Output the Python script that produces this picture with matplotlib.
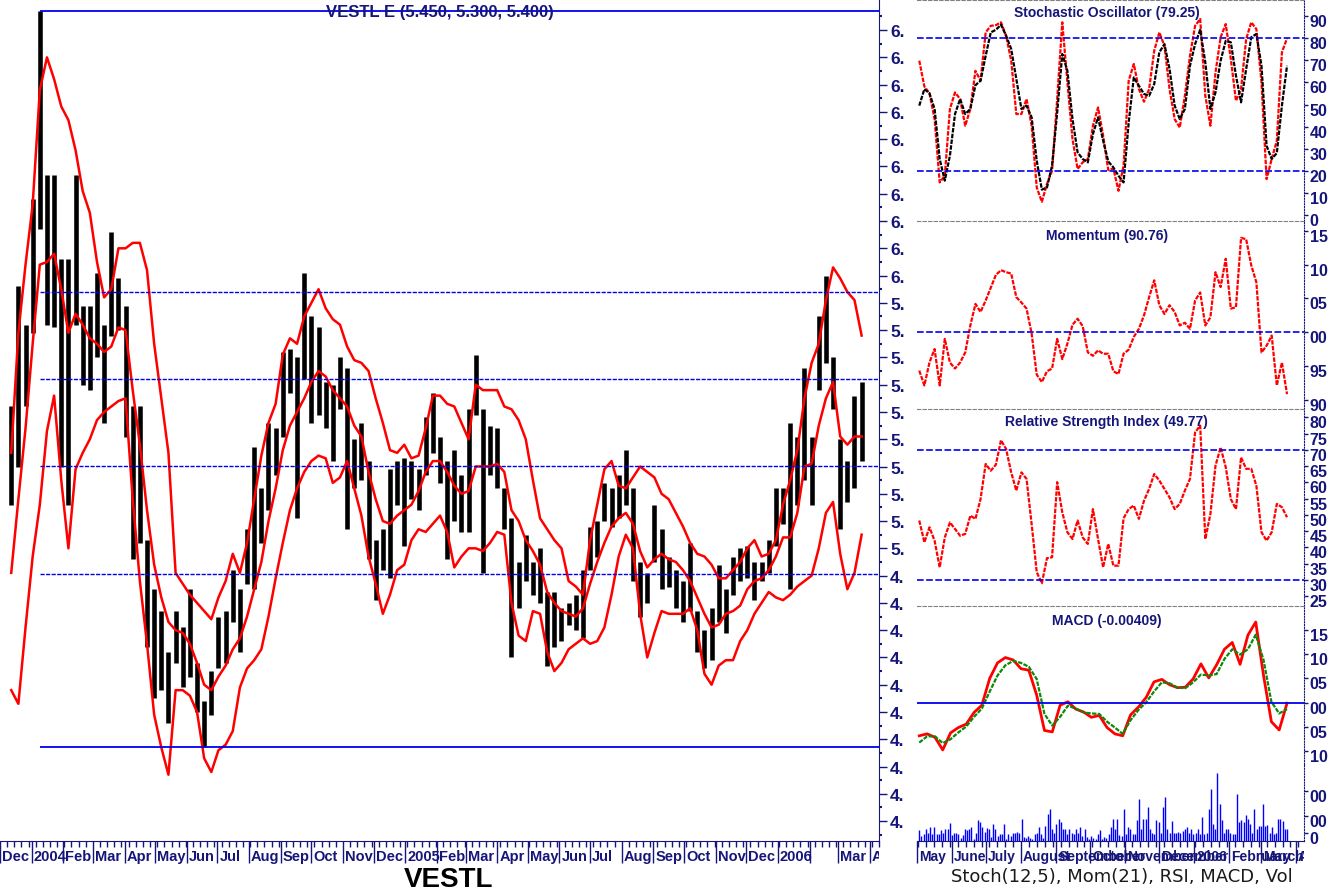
import numpy as np
import pandas as pd
import matplotlib
matplotlib.use('Agg')
import matplotlib.pyplot as plt
import matplotlib.dates as mdates
from matplotlib.transforms import ScaledTranslation, Bbox, TransformedBbox, blended_transform_factory

W, H = 1343, 895
NAVY = '#15157a'
BLUE = '#0000ee'
NARROW = ['Liberation Sans Narrow', 'Liberation Sans', 'DejaVu Sans']
plt.rcParams['font.family'] = ['Liberation Sans', 'DejaVu Sans']
plt.rcParams['font.weight'] = 'bold'

# ---- main chart: weekly high/low and bollinger bands (VESTL) ----
weeks = pd.date_range('2003-12-12', periods=120, freq='7D')
high = [5.52, 5.96, 5.82, 6.28, 6.97, 6.37, 6.37, 6.06, 6.06, 6.37,
        5.89, 5.89, 6.01, 5.82, 6.16, 5.99, 5.89, 5.52, 5.52, 5.03,
        4.85, 4.77, 4.62, 4.77, 4.71, 4.85, 4.58, 4.44, 4.55, 4.75,
        4.77, 4.92, 4.85, 5.07, 5.37, 5.22, 5.46, 5.44, 5.72, 5.73,
        5.70, 6.01, 5.85, 5.81, 5.61, 5.60, 5.70, 5.66, 5.40, 5.46,
        5.32, 5.03, 5.07, 5.29, 5.32, 5.33, 5.32, 5.29, 5.48, 5.57,
        5.41, 5.32, 5.36, 5.27, 5.51, 5.71, 5.51, 5.45, 5.44, 5.22,
        5.11, 4.95, 5.05, 4.95, 5.00, 4.84, 4.84, 4.78, 4.80, 4.83,
        4.92, 5.08, 5.10, 5.24, 5.22, 5.27, 5.36, 5.22, 4.95, 4.91,
        5.16, 5.07, 4.97, 4.92, 4.88, 5.02, 4.77, 4.70, 4.78, 4.94,
        4.85, 4.97, 5.00, 5.01, 4.95, 4.95, 5.03, 5.22, 5.22, 5.46,
        5.41, 5.66, 5.41, 5.85, 6.00, 5.70, 5.40, 5.32, 5.56, 5.61]
low = [5.16, 5.30, 5.52, 5.79, 6.17, 5.82, 5.81, 5.30, 5.16, 5.82,
       5.60, 5.58, 5.70, 5.46, 5.78, 5.80, 5.41, 4.96, 5.02, 4.64,
       4.45, 4.48, 4.36, 4.58, 4.49, 4.53, 4.40, 4.27, 4.39, 4.56,
       4.58, 4.73, 4.62, 4.87, 4.85, 5.02, 5.14, 5.27, 5.41, 5.57,
       5.11, 5.62, 5.46, 5.49, 5.44, 5.32, 5.51, 5.07, 5.22, 5.25,
       4.96, 4.81, 4.92, 4.89, 5.16, 5.01, 5.18, 5.14, 5.27, 5.35,
       5.24, 4.96, 5.10, 5.06, 5.06, 5.49, 4.91, 5.27, 5.22, 5.07,
       4.60, 4.78, 4.88, 4.83, 4.80, 4.57, 4.64, 4.66, 4.72, 4.70,
       4.67, 4.92, 4.97, 5.10, 5.08, 5.11, 5.16, 4.88, 4.75, 4.80,
       4.95, 4.85, 4.86, 4.78, 4.73, 4.77, 4.62, 4.56, 4.59, 4.73,
       4.69, 4.83, 4.88, 4.89, 4.81, 4.88, 4.91, 5.01, 5.09, 4.85,
       5.16, 5.25, 5.16, 5.58, 5.68, 5.51, 5.07, 5.17, 5.22, 5.32]
bb_up = [5.35, 5.79, 6.04, 6.26, 6.68, 6.80, 6.72, 6.62, 6.57, 6.46,
         6.31, 6.23, 6.05, 5.92, 5.95, 6.10, 6.10, 6.12, 6.12, 6.02,
         5.75, 5.55, 5.35, 4.91, 4.87, 4.83, 4.80, 4.77, 4.74, 4.82,
         4.88, 4.98, 4.91, 5.02, 5.18, 5.34, 5.46, 5.53, 5.71, 5.77,
         5.75, 5.85, 5.90, 5.95, 5.88, 5.84, 5.82, 5.74, 5.69, 5.68,
         5.65, 5.55, 5.46, 5.36, 5.35, 5.38, 5.33, 5.34, 5.44, 5.56,
         5.56, 5.53, 5.52, 5.46, 5.40, 5.60, 5.58, 5.58, 5.58, 5.52,
         5.51, 5.47, 5.40, 5.25, 5.11, 5.07, 5.03, 5.00, 4.88, 4.86,
         4.83, 5.03, 5.16, 5.29, 5.32, 5.23, 5.22, 5.26, 5.30, 5.28,
         5.26, 5.20, 5.18, 5.13, 5.08, 5.02, 4.98, 4.97, 4.94, 4.89,
         4.89, 4.92, 4.95, 5.00, 5.03, 4.97, 4.98, 5.03, 5.16, 5.25,
         5.36, 5.55, 5.68, 5.75, 5.91, 6.03, 5.99, 5.94, 5.91, 5.78]
bb_mid = [4.91, 5.18, 5.44, 5.75, 6.04, 6.05, 6.08, 5.95, 5.79, 5.86,
          5.82, 5.77, 5.75, 5.72, 5.74, 5.81, 5.80, 5.58, 5.38, 5.14,
          4.94, 4.82, 4.73, 4.70, 4.69, 4.65, 4.58, 4.50, 4.48, 4.53,
          4.57, 4.63, 4.67, 4.75, 4.85, 4.95, 5.10, 5.22, 5.36, 5.45,
          5.50, 5.55, 5.61, 5.65, 5.63, 5.58, 5.55, 5.52, 5.45, 5.41,
          5.28, 5.18, 5.10, 5.09, 5.12, 5.14, 5.16, 5.21, 5.28, 5.32,
          5.32, 5.28, 5.23, 5.20, 5.21, 5.30, 5.30, 5.30, 5.31, 5.28,
          5.14, 5.10, 5.03, 4.99, 4.94, 4.84, 4.80, 4.77, 4.76, 4.75,
          4.78, 4.87, 4.95, 5.02, 5.08, 5.11, 5.13, 5.09, 4.99, 4.93,
          4.96, 4.98, 4.96, 4.95, 4.92, 4.88, 4.82, 4.76, 4.71, 4.72,
          4.76, 4.77, 4.79, 4.85, 4.88, 4.89, 4.92, 4.97, 5.04, 5.04,
          5.13, 5.30, 5.31, 5.45, 5.55, 5.61, 5.41, 5.38, 5.41, 5.41]
bb_low = [4.48, 4.43, 4.71, 4.97, 5.16, 5.43, 5.56, 5.25, 5.00, 5.29,
          5.35, 5.40, 5.47, 5.50, 5.52, 5.54, 5.55, 5.18, 4.88, 4.65,
          4.39, 4.27, 4.17, 4.48, 4.48, 4.46, 4.40, 4.23, 4.18, 4.26,
          4.28, 4.33, 4.49, 4.56, 4.59, 4.63, 4.75, 4.89, 5.02, 5.14,
          5.22, 5.28, 5.32, 5.34, 5.33, 5.24, 5.26, 5.32, 5.22, 5.12,
          4.97, 4.87, 4.76, 4.83, 4.92, 4.94, 5.03, 5.07, 5.06, 5.09,
          5.12, 5.06, 4.93, 4.97, 5.00, 5.00, 4.99, 5.02, 5.06, 5.05,
          4.80, 4.68, 4.66, 4.77, 4.76, 4.62, 4.55, 4.58, 4.63, 4.65,
          4.67, 4.65, 4.66, 4.71, 4.83, 4.97, 5.05, 5.00, 4.76, 4.60,
          4.69, 4.77, 4.76, 4.76, 4.76, 4.78, 4.70, 4.54, 4.50, 4.57,
          4.59, 4.59, 4.66, 4.70, 4.76, 4.80, 4.84, 4.82, 4.81, 4.83,
          4.86, 4.88, 4.90, 5.00, 5.13, 5.17, 4.98, 4.85, 4.91, 5.05]
fib_levels = [0, 0.236, 0.382, 0.5, 0.618, 1]
main_months = pd.date_range('2003-12-01', '2006-04-01', freq='MS')
main_month_labels = ['Dec', '2004', 'Feb', 'Mar', 'Apr', 'May', 'Jun', 'Jul', 'Aug', 'Sep',
                     'Oct', 'Nov', 'Dec', '2005', 'Feb', 'Mar', 'Apr', 'May', 'Jun', 'Jul',
                     'Aug', 'Sep', 'Oct', 'Nov', 'Dec', '2006', '', 'Mar', 'Apr']

# ---- right-hand indicators (May 2005 - Mar 2006), evenly sampled ----
stoch_k = [69.9, 58.2, 55.1, 43.4, 14.7, 17.7, 48.0, 55.5, 52.5, 40.4,
           48.0, 65.3, 60.8, 82.7, 85.7, 86.0, 87.3, 81.2, 69.9, 45.7,
           45.7, 52.5, 40.4, 12.4, 5.9, 14.0, 20.0, 52.5, 87.3, 60.1,
           34.4, 20.8, 23.8, 25.3, 40.4, 48.7, 35.9, 20.3, 21.0, 10.9,
           22.3, 60.8, 68.4, 57.0, 51.3, 57.0, 74.4, 82.7, 76.7, 57.0,
           43.4, 39.6, 54.0, 72.1, 85.7, 88.8, 54.0, 40.4, 64.6, 80.5,
           86.5, 70.6, 51.7, 57.0, 79.7, 87.3, 84.2, 60.1, 16.2, 25.3,
           33.6, 73.7, 80.0]
stoch_d = [49.5, 57.0, 55.1, 48.0, 25.3, 15.5, 26.8, 45.7, 52.5, 45.7,
           48.0, 58.8, 60.8, 72.1, 82.7, 83.9, 86.2, 81.2, 75.2, 61.6,
           48.0, 49.5, 44.2, 24.5, 11.4, 12.4, 22.3, 46.4, 72.9, 65.3,
           43.4, 28.3, 25.3, 23.8, 36.6, 44.2, 33.6, 24.2, 21.5, 17.7,
           14.7, 41.9, 62.3, 58.5, 54.8, 54.0, 59.3, 73.7, 77.4, 66.1,
           49.5, 43.4, 48.0, 67.6, 77.4, 83.9, 69.1, 48.0, 55.5, 69.9,
           78.9, 78.2, 63.1, 51.0, 66.1, 80.5, 82.0, 67.6, 31.3, 25.3,
           28.0, 49.5, 67.6]
momentum = [94.3, 92.1, 95.5, 97.5, 92.1, 99.0, 95.5, 94.6, 95.5, 97.0,
            101.0, 104.2, 103.0, 104.7, 106.6, 108.5, 109.2, 108.9, 108.7, 105.2,
            104.4, 103.5, 99.8, 93.7, 92.6, 94.2, 94.6, 99.0, 96.0, 98.3,
            101.1, 102.0, 100.9, 97.0, 96.5, 97.3, 96.8, 96.8, 94.2, 93.8,
            96.8, 97.4, 99.3, 100.5, 102.5, 105.2, 107.7, 104.0, 102.7, 104.0,
            103.0, 101.0, 101.4, 100.5, 104.7, 105.9, 101.0, 102.2, 108.9, 106.7,
            110.9, 103.5, 103.7, 114.0, 113.8, 109.9, 107.4, 97.0, 98.0, 99.5,
            92.1, 95.5, 90.8]
rsi = [48.3, 41.6, 46.2, 42.1, 33.9, 43.1, 47.7, 45.7, 43.6, 44.2,
       49.8, 48.8, 54.9, 65.7, 63.6, 65.5, 73.0, 70.3, 63.1, 57.5,
       63.1, 61.1, 47.2, 32.4, 29.0, 36.7, 37.0, 60.1, 50.8, 44.7,
       42.6, 48.3, 43.1, 41.1, 51.8, 42.6, 33.9, 41.1, 34.4, 34.4,
       49.0, 51.8, 52.9, 48.8, 54.4, 58.0, 62.6, 60.6, 58.0, 55.4,
       51.8, 53.4, 57.5, 61.1, 75.4, 77.5, 42.6, 50.3, 65.2, 70.8,
       64.7, 54.9, 51.8, 67.7, 64.2, 64.2, 59.0, 44.7, 42.1, 44.7,
       53.4, 52.4, 49.3]
macd = [-0.0068, -0.0064, -0.0071, -0.0097, -0.0062, -0.0051, -0.0044, -0.0020, -0.0005, 0.0050,
        0.0082, 0.0093, 0.0088, 0.0070, 0.0067, 0.0016, -0.0057, -0.0060, -0.0005, 0.0002,
        -0.0013, -0.0019, -0.0030, -0.0026, -0.0051, -0.0064, -0.0068, -0.0025, -0.0009, 0.0011,
        0.0043, 0.0048, 0.0037, 0.0031, 0.0032, 0.0049, 0.0080, 0.0051, 0.0078, 0.0110,
        0.0124, 0.0079, 0.0139, 0.0166, 0.0056, -0.0039, -0.0056, -0.0001]
signal = [-0.0082, -0.0069, -0.0069, -0.0083, -0.0075, -0.0061, -0.0049, -0.0029, -0.0012, 0.0023,
          0.0056, 0.0077, 0.0086, 0.0082, 0.0074, 0.0049, -0.0023, -0.0047, -0.0029, -0.0006,
          -0.0012, -0.0020, -0.0022, -0.0023, -0.0039, -0.0051, -0.0064, -0.0036, -0.0015, 0.0001,
          0.0023, 0.0042, 0.0040, 0.0031, 0.0030, 0.0042, 0.0058, 0.0056, 0.0059, 0.0090,
          0.0110, 0.0099, 0.0110, 0.0140, 0.0088, 0.0002, -0.0022, -0.0013]
volume = [10.7, 5, 6.7, 11.7, 8.3, 14, 6.7, 14, 6.7, 6.7, 10.7, 8.3, 12.3, 12.3, 18.3, 5.7, 8.3,
          8.3, 6.7, 3.3, 5.7, 12.3, 10.7, 11.7, 14, 2.3, 8.3, 20.7, 19, 14, 9, 13.3, 12.3, 4,
          16.7, 12.3, 5, 6.7, 6.7, 16.7, 2.3, 6.7, 5, 7.7, 8.3, 9, 8.3, 22.3, 4.3, 3.3, 5, 3.3,
          2.3, 6.7, 8.3, 14, 6.7, 3.3, 15, 26.7, 32.3, 12.3, 8.3, 17.3, 22.3, 19, 12.3, 11.7,
          6.7, 12.3, 8.3, 6.7, 11.7, 8.3, 14, 5, 11.7, 4, 2.3, 5, 3.3, 2.3, 6.7, 10.7, 2.3, 4,
          3.3, 6.7, 14, 22.3, 11.7, 21.7, 5.7, 5, 32.3, 6.7, 14, 11.7, 6.7, 6.7, 20.7, 42.3,
          12.3, 22.3, 22.3, 34, 11.7, 8.3, 6.7, 20.7, 19, 8.3, 34, 44.3, 12.3, 8.3, 20, 8.3,
          8.3, 9, 8.3, 10, 12.3, 14, 8.3, 11.7, 7.3, 8.3, 12.3, 6.7, 24, 6.7, 8.3, 32.3, 52.3,
          17.3, 11.7, 68.3, 37.3, 20.7, 8.3, 11.7, 12.3, 8.3, 6.7, 6.7, 46.7, 19, 20.7, 19,
          25.7, 21.7, 16.7, 8.3, 32.3, 11.7, 15, 15, 36.7, 15, 15.7, 8.3, 14, 6.7, 8.3, 22.3,
          21.7, 20, 12.3, 11.7]
right_months = pd.date_range('2005-05-01', '2006-04-01', freq='MS')
right_month_labels = ['May', 'June', 'July', 'August', 'September', 'October', 'November',
                      'December', '2006', 'February', 'March', 'April']


def spread(n):
    return pd.date_range('2005-05-03', '2006-03-24', periods=n)


def box(x0, y0, x1, y1):
    # pixel box measured from the top-left corner
    return [x0 / W, 1 - y1 / H, (x1 - x0) / W, (y1 - y0) / H]


fig = plt.figure(figsize=(W / 100, H / 100), dpi=100)


def month_axis(ax, months, labels, x0, x1, size):
    ax.set_xticks(months)
    ax.set_xticklabels([])
    ax.tick_params(axis='x', which='major', length=16, width=1, color=NAVY, direction='out')
    ax.tick_params(axis='x', which='minor', length=4, width=1, color=NAVY, direction='out')
    trans = blended_transform_factory(ax.transData, fig.transFigure) + \
        ScaledTranslation(2 / 100, 0, fig.dpi_scale_trans)
    clip = TransformedBbox(Bbox([[x0 / W, 0], [x1 / W, 1]]), fig.transFigure)
    for d, name in zip(months, labels):
        t = fig.text(mdates.date2num(d), 1 - 857 / H, name, transform=trans, ha='left',
                     va='center', fontsize=size, color=NAVY, family=NARROW, fontweight='bold')
        t.set_clip_box(clip)
        t.set_clip_on(True)


# ---- main price panel ----
ax = fig.add_axes(box(0, 0, 879, 842))
x_right = pd.Timestamp('2006-04-10')
ax.set_xlim(pd.Timestamp('2003-12-07'), x_right)
ax.set_ylim(3.927, 7.014)
ax.vlines(weeks, low, high, color='black', lw=3.3)
for band in (bb_up, bb_mid, bb_low):
    ax.plot(weeks, band, color='red', lw=1.8)
hi, lo = max(high), min(low)
t_hi = weeks[int(np.argmax(high))]
for f in fib_levels:
    lvl = lo + f * (hi - lo)
    if f in (0, 1):
        ax.hlines(lvl, t_hi, x_right, color=BLUE, lw=1.3)
    else:
        ax.hlines(lvl, t_hi, x_right, color=BLUE, lw=1.0, linestyles=[(0, (3, 1))])
ax.text(0.5, 1 - 12 / 842, 'VESTL E (5.450, 5.300, 5.400)', transform=ax.transAxes,
        ha='center', va='center', fontsize=12, color=NAVY)

ax.yaxis.tick_right()
yt = np.round(np.arange(4.0, 6.95, 0.1), 2)
ax.set_yticks(yt)
ax.set_yticklabels([f'{int(np.floor(v + 1e-6))}.' for v in yt])
ax.set_yticks(np.round(np.arange(3.95, 7.0, 0.1), 2), minor=True)
ax.tick_params(axis='y', which='major', length=6, width=1, color=NAVY, labelcolor=NAVY,
               labelsize=12.5, pad=2)
ax.tick_params(axis='y', which='minor', length=2, width=1.5, color=NAVY)
ax.set_xticks(pd.date_range('2003-12-08', '2006-04-10', freq='W-MON'), minor=True)
month_axis(ax, main_months, main_month_labels, 0, 879, 10.5)
for s in ('left', 'top'):
    ax.spines[s].set_visible(False)
for s in ('right', 'bottom'):
    ax.spines[s].set_color(NAVY)

fig.text(449 / W, 1 - 880 / H, 'VESTL', ha='center', va='center', fontsize=20,
         family=NARROW, color='black')

# ---- indicator panels ----
rx0, rx1 = 917, 1304
ax_st = fig.add_axes(box(rx0, 1, rx1, 222))
ax_mo = fig.add_axes(box(rx0, 222, rx1, 410), sharex=ax_st)
ax_rs = fig.add_axes(box(rx0, 410, rx1, 607), sharex=ax_st)
ax_ma = fig.add_axes(box(rx0, 607, rx1, 765), sharex=ax_st)
ax_vo = fig.add_axes(box(rx0, 765, rx1, 842), sharex=ax_st)
ax_st.set_xlim(pd.Timestamp('2005-05-01'), pd.Timestamp('2006-04-08'))

dots = (0, (2, 0.6))
ax_st.plot(spread(len(stoch_k)), stoch_k, color='red', lw=1.6, ls=dots)
ax_st.plot(spread(len(stoch_d)), stoch_d, color='black', lw=1.6, ls=dots)
for v in (80, 20):
    ax_st.axhline(v, color=BLUE, lw=1.2, ls=(0, (4, 1.5)))
ax_st.set_ylim(-2.8, 97.4)
ax_st.set_yticks(range(0, 100, 10))

ax_mo.plot(spread(len(momentum)), momentum, color='red', lw=1.6, ls=dots)
ax_mo.axhline(100, color=BLUE, lw=1.2, ls=(0, (4, 1.5)))
ax_mo.set_ylim(88.6, 116.5)
ax_mo.set_yticks([90, 95, 100, 105, 110, 115])
ax_mo.set_yticklabels(['90', '95', '00', '05', '10', '15'])

ax_rs.plot(spread(len(rsi)), rsi, color='red', lw=1.6, ls=dots)
for v in (70, 30):
    ax_rs.axhline(v, color=BLUE, lw=1.2, ls=(0, (4, 1.5)))
ax_rs.set_ylim(22.0, 82.6)
ax_rs.set_yticks(range(25, 85, 5))

ax_ma.plot(spread(len(macd)), macd, color='red', lw=2.0)
ax_ma.plot(spread(len(signal)), signal, color='#0a8a0a', lw=1.6, ls=dots)
ax_ma.axhline(0, color=BLUE, lw=1.3)
ax_ma.set_ylim(-0.0126, 0.0199)
ax_ma.set_yticks([-0.010, -0.005, 0, 0.005, 0.010, 0.015])
ax_ma.set_yticklabels(['10', '05', '00', '05', '10', '15'])

ax_vo.vlines(spread(len(volume)), 0, volume, color='#0000ff', lw=1.0)
ax_vo.set_ylim(0, 77)
ax_vo.set_yticks([8, 25, 50])
ax_vo.set_yticklabels(['0', '00', '00'])

titles = [(ax_st, 'Stochastic Oscillator (79.25)', 1 - 12 / 221),
          (ax_mo, 'Momentum (90.76)', 1 - 14 / 188),
          (ax_rs, 'Relative Strength Index (49.77)', 1 - 12 / 197),
          (ax_ma, 'MACD (-0.00409)', 1 - 14 / 158)]
for a, txt, yy in titles:
    a.text(0.49, yy, txt, transform=a.transAxes, ha='center', va='center',
           fontsize=10, color=NAVY)

shift = ScaledTranslation(0, -4 / 100, fig.dpi_scale_trans)
for a in (ax_st, ax_mo, ax_rs, ax_ma, ax_vo):
    a.yaxis.tick_right()
    a.tick_params(axis='y', length=3, width=1, color=NAVY, labelcolor=NAVY,
                  labelsize=11.5, pad=1)
    for lab in a.get_yticklabels():
        lab.set_transform(lab.get_transform() + shift)
    a.spines['left'].set_visible(False)
    a.spines['right'].set_color(NAVY)
    a.spines['right'].set_linestyle((0, (1, 1.5)))
    if a is not ax_vo:
        a.spines['bottom'].set_visible(False)
        a.spines['top'].set_color('#808080')
        a.spines['top'].set_linestyle((0, (3, 2)))
        a.tick_params(axis='x', which='both', bottom=False, labelbottom=False)
    else:
        a.spines['top'].set_visible(False)
        a.spines['bottom'].set_color(NAVY)

ax_vo.set_xticks(pd.date_range('2005-05-02', '2006-04-08', freq='W-MON'), minor=True)
month_axis(ax_vo, right_months, right_month_labels, rx0, rx1, 10)

fig.text(1122 / W, 1 - 877 / H, 'Stoch(12,5), Mom(21), RSI, MACD, Vol', ha='center',
         va='center', fontsize=13, family=['DejaVu Sans'], fontweight='normal', color='#1a1a1a')

fig.savefig('out.png', dpi=100)
